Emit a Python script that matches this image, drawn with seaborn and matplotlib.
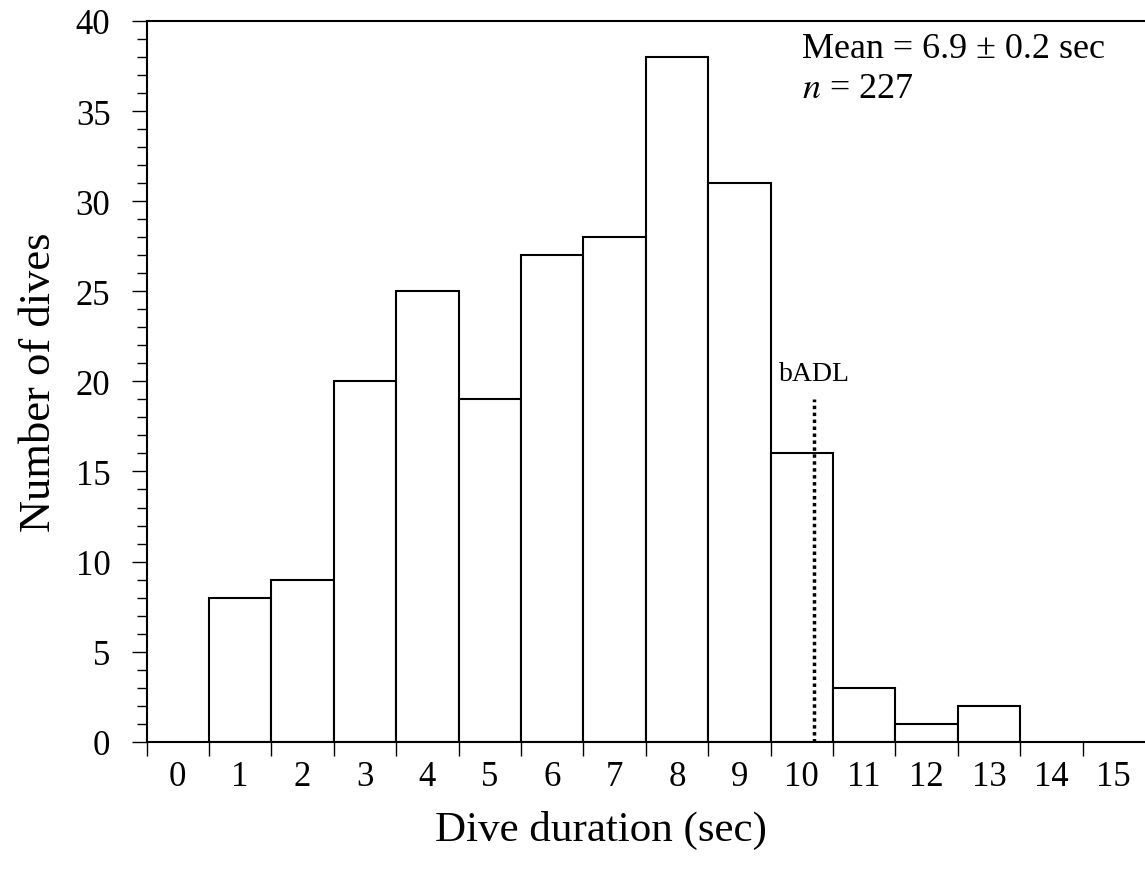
import matplotlib
matplotlib.use("Agg")
import matplotlib.pyplot as plt
import seaborn as sns
import pandas as pd
import numpy as np
from matplotlib.ticker import MultipleLocator, FixedLocator

# Data
durations = [1, 2, 3, 4, 5, 6, 7, 8, 9, 10, 11, 12, 13]
counts = [8, 9, 20, 25, 19, 27, 28, 38, 31, 16, 3, 1, 2]
x_tick_labels = [str(i) for i in range(0, 16)]
badl_x = 10.2
badl_top = 19
mean_text = "Mean = 6.9 \u00b1 0.2 sec"
n_text = r"$n$ = 227"

df = pd.DataFrame({"duration": durations, "count": counts})

sns.set_style("white")
plt.rcParams["font.family"] = ["Liberation Serif", "DejaVu Serif"]
plt.rcParams["mathtext.fontset"] = "stix"
plt.rcParams["text.color"] = "black"
plt.rcParams["axes.labelcolor"] = "black"
plt.rcParams["xtick.color"] = "black"
plt.rcParams["ytick.color"] = "black"

fig = plt.figure(figsize=(11.45, 8.78), dpi=100)
ax = fig.add_axes([0.128, 0.154, 0.872, 0.821])

sns.histplot(data=df, x="duration", weights="count", discrete=True,
             color="white", edgecolor="black", linewidth=1.5, alpha=1,
             ax=ax)

ax.set_xlim(-0.5, 15.5)
ax.set_ylim(0, 40)

# x ticks: labels at integers (no tick marks), tick marks at half-integers
ax.xaxis.set_major_locator(FixedLocator(range(0, 16)))
ax.set_xticklabels(x_tick_labels)
ax.xaxis.set_minor_locator(FixedLocator(np.arange(-0.5, 15.0, 1.0)))
ax.tick_params(axis="x", which="major", length=0, pad=13, labelsize=25)
ax.tick_params(axis="x", which="minor", length=10, width=1, direction="out", bottom=True)

ax.yaxis.set_major_locator(MultipleLocator(5))
ax.yaxis.set_minor_locator(MultipleLocator(1))
ax.tick_params(axis="y", which="major", length=11, width=1, direction="out", left=True, pad=15, labelsize=25)
ax.tick_params(axis="y", which="minor", length=7, width=1, direction="out", left=True)

for side in ["left", "bottom", "top"]:
    ax.spines[side].set_visible(True)
    ax.spines[side].set_color("black")
    ax.spines[side].set_linewidth(1.5)
ax.spines["right"].set_visible(False)

ax.set_xlabel("Dive duration (sec)", fontsize=31)
ax.xaxis.set_label_coords(0.455, -0.095)
ax.set_ylabel("Number of dives", fontsize=32, labelpad=12)

# bADL line
ax.vlines(badl_x, 0, badl_top, colors="black", linestyles=(0, (1, 1)), linewidth=2.5)
ax.text(9.64, 20.1, "bADL", fontsize=20, ha="left", va="baseline")

ax.text(10.0, 38.0, mean_text, fontsize=26, ha="left", va="baseline")
ax.text(10.0, 35.8, n_text, fontsize=26, ha="left", va="baseline")

fig.savefig("out.png", dpi=100)
